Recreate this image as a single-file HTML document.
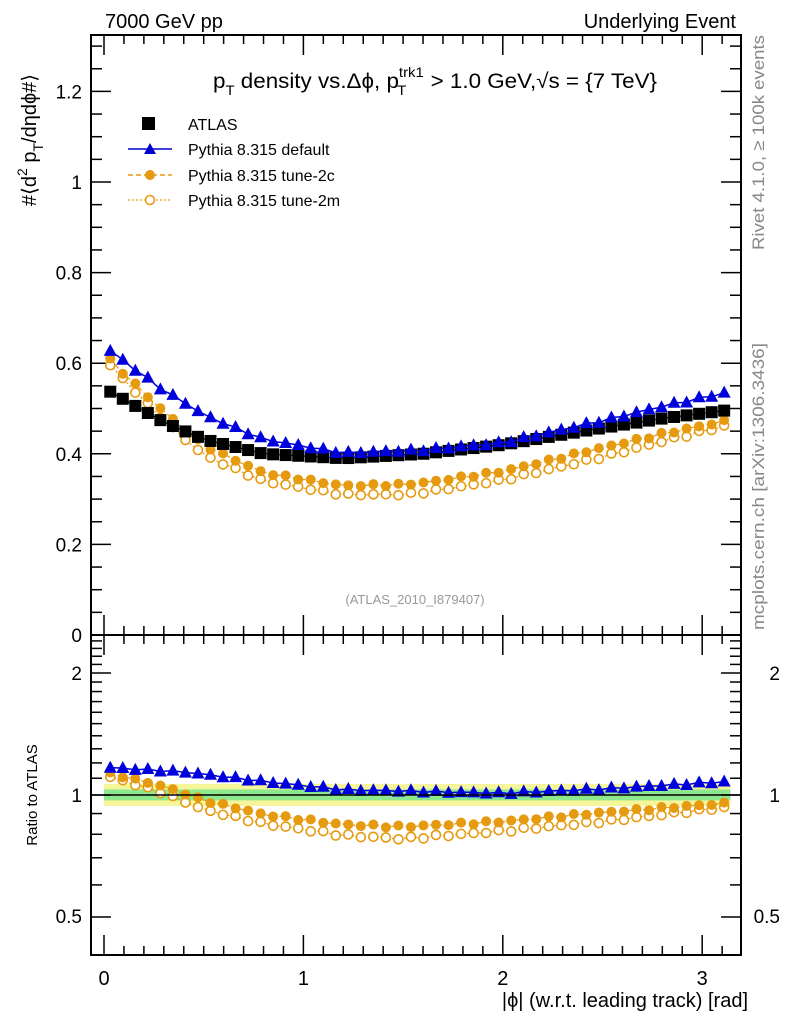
<!DOCTYPE html>
<html><head><meta charset="utf-8"><style>
body{margin:0;background:#fff;width:786px;height:1024px;overflow:hidden}
svg text{font-family:"Liberation Sans",sans-serif}
</style></head><body>
<svg id="s" width="786" height="1024" xmlns="http://www.w3.org/2000/svg">
<text x="105" y="28" font-size="20">7000 GeV pp</text>
<text x="736" y="28" font-size="20" text-anchor="end">Underlying Event</text>
<g id="bands"></g>
<g id="g"></g>
<rect x="91" y="35" width="650" height="600" fill="none" stroke="#000" stroke-width="2"/>
<rect x="91" y="635" width="650" height="320" fill="none" stroke="#000" stroke-width="2"/>
<line x1="91" y1="795" x2="741" y2="795" stroke="#000" stroke-width="1.5"/>
<text x="435" y="88" font-size="21" text-anchor="middle" textLength="444" lengthAdjust="spacingAndGlyphs">p<tspan font-size="14" dy="7">T</tspan><tspan dy="-7"> density vs.Δϕ, p</tspan><tspan font-size="14" dy="-11">trk1</tspan><tspan font-size="14" dx="-25" dy="18">T</tspan><tspan dy="-7" dx="17"> &gt; 1.0 GeV,√s = {7 TeV}</tspan></text>
<rect x="142" y="117" width="13" height="13" fill="#000"/>
<text x="188" y="130" font-size="16">ATLAS</text>
<line x1="128" y1="149" x2="172" y2="149" stroke="#00c" stroke-width="1.5"/>
<polygon points="150,143 156,154 144,154" fill="#00c"/>
<text x="188" y="155" font-size="16">Pythia 8.315 default</text>
<line x1="128" y1="175" x2="172" y2="175" stroke="#e69a10" stroke-width="1.5" stroke-dasharray="5,3"/>
<circle cx="150" cy="175" r="5" fill="#e69a10"/>
<text x="188" y="181" font-size="16">Pythia 8.315 tune-2c</text>
<line x1="128" y1="200" x2="172" y2="200" stroke="#e69a10" stroke-width="1.2" stroke-dasharray="2,2"/>
<circle cx="150" cy="200" r="4.5" fill="#fff" stroke="#e69a10" stroke-width="1.5"/>
<text x="188" y="206" font-size="16">Pythia 8.315 tune-2m</text>
<text x="415" y="604" font-size="13" fill="#999" text-anchor="middle">(ATLAS_2010_I879407)</text>
<text transform="translate(36,140) rotate(-90)" font-size="20" text-anchor="middle">#⟨d<tspan font-size="14" dy="-9">2</tspan><tspan dy="9"> p</tspan><tspan font-size="14" dy="7">T</tspan><tspan dy="-7">/dηdϕ#⟩</tspan></text>
<text transform="translate(37,795) rotate(-90)" font-size="15" text-anchor="middle">Ratio to ATLAS</text>
<text x="748" y="1007" font-size="20" text-anchor="end">|ϕ| (w.r.t. leading track) [rad]</text>
<text transform="translate(764,35) rotate(-90)" font-size="17" fill="#888" text-anchor="end" textLength="215" lengthAdjust="spacingAndGlyphs">Rivet 4.1.0, ≥ 100k events</text>
<text transform="translate(764,343) rotate(-90)" font-size="17" fill="#888" text-anchor="end" textLength="287" lengthAdjust="spacingAndGlyphs">mcplots.cern.ch [arXiv:1306.3436]</text>
</svg>
<script>
const NS="http://www.w3.org/2000/svg",g=document.getElementById('g'),bd=document.getElementById('bands');
function el(t,a,p){const e=document.createElementNS(NS,t);for(const k in a)e.setAttribute(k,a[k]);(p||g).appendChild(e);return e}
function tx(x,y,s,anchor,size){const e=el('text',{x:x,y:y,'font-size':size||19,'text-anchor':anchor||'end'});e.textContent=s}
const X=v=>104+199.4*v, Y=v=>635-453*v, R=v=>795-122*Math.log2(v);
for(let i=0;i<=31;i++){const v=i*0.1,x=X(v);if(x>741)break;const big=i%10==0,l=big?20:9;
 for(const [b,d] of [[635,-1],[955,-1],[35,1],[635,1]]){el('line',{x1:x,y1:b,x2:x,y2:b+d*l,stroke:'#000','stroke-width':1.5})}}
[0,1,2,3].forEach(v=>tx(X(v),985,String(v),'middle',20));
for(let i=0;i<=26;i++){const v=i*0.05,y=Y(v);if(y<35)break;const big=i%4==0,l=big?20:11;
 el('line',{x1:91,y1:y,x2:91+l,y2:y,stroke:'#000','stroke-width':1.5});el('line',{x1:741,y1:y,x2:741-l,y2:y,stroke:'#000','stroke-width':1.5});
 if(big)tx(82,y+7,i==0?'0':(v.toFixed(1)=='1.0'?'1':v.toFixed(1)))}
[0.5,0.6,0.7,0.8,0.9,1,1.1,1.2,1.3,1.4,1.5,1.6,1.7,1.8,1.9,2,2.1,2.2,2.3,2.4].forEach(v=>{const y=R(v);if(y<637||y>953)return;
 const big=(v==0.5||v==1||v==2),l=big?20:11;
 el('line',{x1:91,y1:y,x2:91+l,y2:y,stroke:'#000','stroke-width':1.5});el('line',{x1:741,y1:y,x2:741-l,y2:y,stroke:'#000','stroke-width':1.5})});
tx(82,802,'1');tx(82,680,'2');tx(82,923,'0.5');tx(780,802,'1');tx(780,680,'2');tx(780,923,'0.5');
function interp(k,x){for(let i=0;i<k.length-1;i++){if(x<=k[i+1][0]){const t=(x-k[i][0])/(k[i+1][0]-k[i][0]);return k[i][1]+t*(k[i+1][1]-k[i][1])}}return k[k.length-1][1]}
const A=[[0,0.545],[0.3,0.47],[0.5,0.432],[0.8,0.40],[1.2,0.39],[1.6,0.40],[2.0,0.42],[2.4,0.45],[2.8,0.478],[3.14,0.497]];
const RD=[[0,1.17],[0.4,1.14],[0.8,1.08],[1.2,1.03],[2.0,1.01],[2.5,1.035],[3.14,1.08]];
const R2c=[[0,1.14],[0.3,1.05],[0.5,0.97],[0.8,0.895],[1.2,0.845],[1.5,0.835],[2.0,0.86],[2.5,0.905],[3.14,0.955]];
const R2m=[[0,1.12],[0.3,1.01],[0.5,0.92],[0.8,0.85],[1.2,0.795],[1.5,0.78],[2.0,0.815],[2.5,0.86],[3.14,0.935]];
const n=50,w=Math.PI/n,xs=[];for(let i=0;i<n;i++)xs.push((i+0.5)*w);
const jit=i=>Math.sin(i*2.7)*0.006;
const a=xs.map(x=>interp(A,x));
const rd=xs.map((x,i)=>interp(RD,x)+jit(i)),r2c=xs.map((x,i)=>interp(R2c,x)+jit(i+3)),r2m=xs.map((x,i)=>interp(R2m,x)+jit(i+7));
el('rect',{x:X(0),y:R(1.065),width:X(xs[n-1]+w/2)-X(0),height:R(0.94)-R(1.065),fill:'#f5f59a'},bd);
el('rect',{x:X(0),y:R(1.032),width:X(xs[n-1]+w/2)-X(0),height:R(0.97)-R(1.032),fill:'#8ee88e'},bd);
function series(ys,fy,col,dash,kind){
 el('polyline',{points:xs.map((x,i)=>X(x)+','+fy(ys[i])).join(' '),fill:'none',stroke:col,'stroke-width':kind=='tri'?1.5:1.2,'stroke-dasharray':dash});
 xs.forEach((x,i)=>{const cx=X(x),cy=fy(ys[i]);
  if(kind=='sq')el('rect',{x:cx-6,y:cy-6,width:12,height:12,fill:'#000'});
  else if(kind=='tri')el('polygon',{points:`${cx},${cy-7} ${cx+6.5},${cy+5} ${cx-6.5},${cy+5}`,fill:col});
  else if(kind=='dot')el('circle',{cx:cx,cy:cy,r:5,fill:col});
  else el('circle',{cx:cx,cy:cy,r:4.5,fill:'#fff',stroke:col,'stroke-width':1.6});});}
series(a.map((v,i)=>v*r2m[i]),Y,'#e69a10','2,2','o');
series(a.map((v,i)=>v*r2c[i]),Y,'#e69a10','5,3','dot');
series(a,Y,'#000','','sq');
series(a.map((v,i)=>v*rd[i]),Y,'#0000dd','','tri');
series(r2m,R,'#e69a10','2,2','o');
series(r2c,R,'#e69a10','5,3','dot');
series(rd,R,'#0000dd','','tri');
</script>
</body></html>
